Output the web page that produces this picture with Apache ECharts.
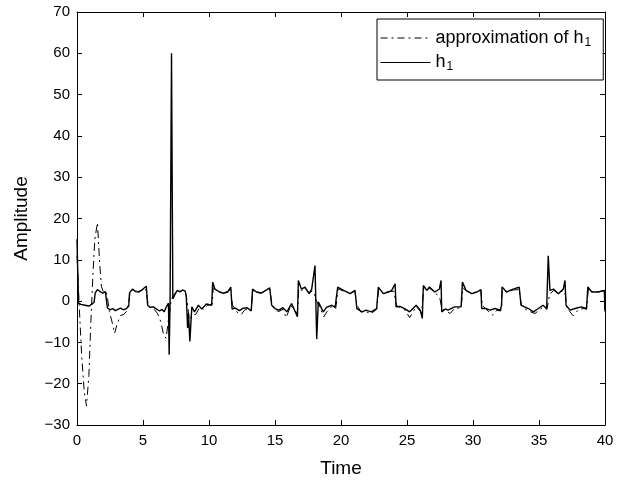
<!DOCTYPE html>
<html>
<head>
<meta charset="utf-8">
<script src="https://cdn.jsdelivr.net/npm/echarts@6/dist/echarts.min.js"></script>
<style>html,body{margin:0;padding:0;background:#fff}#c{width:629px;height:483px}</style>
</head>
<body>
<div id="c"></div>
<script>
// h1 (solid)
const tH1 = [0.00,0.05,0.12,0.3,0.6,0.9,1.1,1.30,1.38,1.55,1.75,1.95,2.15,2.25,2.30,2.5,2.7,2.9,3.1,3.3,3.5,3.75,3.92,3.98,4.2,4.45,4.7,4.95,5.25,5.35,5.55,5.8,6.0,6.25,6.45,6.6,6.8,6.93,6.98,7.05,7.16,7.26,7.45,7.6,7.8,8.0,8.2,8.28,8.38,8.45,8.55,8.7,8.9,9.2,9.45,9.8,10.2,10.28,10.45,10.8,11.1,11.4,11.65,11.75,12.0,12.3,12.6,12.9,13.2,13.3,13.6,13.95,14.3,14.6,14.75,15.0,15.3,15.6,15.9,16.26,16.7,16.77,17.0,17.27,17.58,17.78,18.03,18.16,18.28,18.66,18.9,19.3,19.55,19.75,20.2,20.7,21.06,21.2,21.6,21.9,22.3,22.7,22.83,23.2,23.6,23.84,23.96,24.1,24.17,24.47,24.85,25.2,25.7,26.0,26.16,26.24,26.5,26.7,27.1,27.45,27.58,27.63,27.9,28.1,28.6,29.1,29.2,29.47,29.9,30.3,30.6,30.66,31.0,31.3,31.67,32.05,32.17,32.2,32.55,32.8,33.05,33.5,33.64,33.9,34.2,34.57,34.95,35.3,35.58,35.7,35.83,36.1,36.46,36.84,36.97,37.05,37.35,37.73,38.2,38.6,38.7,39.0,39.5,39.95,40.0];
const vH1 = [15,8,-0.5,-0.8,-1.0,-1.2,-0.8,-0.2,2.0,2.8,2.3,1.9,2.3,2.6,-1.6,-2.1,-1.8,-2.3,-2.0,-1.7,-2.1,-1.8,-1.2,2.0,2.9,2.3,2.2,2.8,3.6,-1.0,-1.5,-1.4,-1.9,-2.4,-2.0,-2.6,-1.2,-0.5,-13,-0.5,60,0.5,1.8,2.6,2.2,2.7,2.4,1.0,-6.5,-3,-9.8,-1.4,-2.6,-1.0,-1.9,-0.7,-1.0,4.6,2.9,2.2,1.9,2.2,3.4,-1.9,-1.7,-2.3,-1.7,-1.6,-2.4,2.9,2.2,1.9,2.6,3.2,-1.0,-1.8,-2.2,-1.6,-2.6,-0.6,-3.8,5.0,2.9,3.4,1.8,2.9,8.6,-9.2,-0.2,-2.6,-1.5,-1.0,-1.5,3.4,2.6,1.8,2.6,-1.8,-2.6,-2.2,-2.6,-1.8,3.4,1.8,2.2,2.6,2.2,4.2,-1.4,-1.3,-1.9,-2.6,-1.0,-2.2,-4.2,3.8,2.6,3.4,2.2,2.9,5.0,-2.6,-1.9,-2.2,-1.4,-1.4,4.6,2.6,1.8,2.2,2.8,-1.8,-1.8,-2.2,-1.8,-2.2,-1.0,3.4,2.2,2.6,2.9,3.4,-1.0,-1.4,-1.8,-2.6,-1.8,-1.0,-1.8,11,2.6,2.9,1.8,2.9,5.0,-1.0,-2.2,-1.8,-1.4,-1.8,3.4,2.2,2.2,2.6,-2.5];

// approximation of h1 (dash-dot)
const tApx = [0.00,0.15,0.35,0.55,0.72,0.9,1.05,1.2,1.35,1.55,1.7,1.85,2.0,2.2,2.3,2.45,2.65,2.85,3.05,3.3,3.55,3.8,3.95,4.05,4.3,4.6,4.9,5.2,5.35,5.5,5.8,6.1,6.35,6.55,6.75,6.95,7.15,7.4,7.6,7.9,8.2,8.35,8.5,8.7,9.0,9.3,9.6,9.9,10.25,10.32,10.5,10.8,11.1,11.4,11.65,11.78,12.0,12.2,12.45,12.7,12.95,13.2,13.32,13.6,13.95,14.3,14.6,14.78,15.0,15.3,15.6,15.85,16.2,16.5,16.7,16.8,17.0,17.3,17.6,17.85,18.0,18.15,18.4,18.7,18.95,19.3,19.6,19.78,20.2,20.7,21.05,21.22,21.5,21.9,22.3,22.7,22.86,23.2,23.6,24.0,24.2,24.5,24.85,25.2,25.7,26.1,26.27,26.5,26.7,27.1,27.5,27.65,27.9,28.26,28.6,29.1,29.24,29.5,29.9,30.3,30.6,30.7,31.0,31.5,31.8,32.1,32.23,32.55,33.05,33.5,33.66,33.9,34.2,34.7,35.0,35.3,35.6,35.8,36.1,36.46,36.84,37.0,37.1,37.35,37.6,38.0,38.4,38.6,38.74,39.0,39.5,39.95,40.0];
const vApx = [11,0,-13,-22,-25.4,-18,-5,6,15,19,10,3.5,2.2,2.3,1.0,-2.5,-5,-7.8,-5.5,-3.5,-3.2,-2.3,0.5,2.5,2.9,2.3,2.6,3.3,0,-1.5,-1.8,-3,-5,-8,-9,-4,0.5,1.8,2.6,2.4,2.4,0,-4.5,-3.5,-3.2,-1.5,-2.0,-1.0,-0.8,3.2,2.8,2.2,2.0,2.3,2.8,-1.0,-2.0,-3.0,-3.2,-2.2,-1.8,-2.0,2.5,2.3,2.0,2.5,2.8,-1.0,-2.2,-2.5,-2.0,-4.0,-1.0,-2.5,-2.8,3.0,2.6,3.0,2.0,2.5,1.5,0.0,-1.5,-3.8,-2.5,-1.3,-1.8,3.0,2.4,1.9,2.4,-1.0,-2.6,-2.6,-3.0,-2.0,3.0,2.0,2.3,2.4,-1.0,-1.6,-2.2,-4.0,-1.3,-2.8,3.2,2.6,3.1,2.3,0.5,-2.0,-2.2,-3.0,-1.8,-1.6,3.2,2.5,1.9,2.3,2.6,-1.0,-2.0,-3.4,-2.2,-2.4,2.8,2.2,2.7,2.8,-1.0,-1.8,-2.4,-3.0,-2.2,-1.5,-2.0,1.5,2.6,2.0,2.5,1.5,-1.5,-2.6,-3.6,-2.0,-1.8,-2.0,3.0,2.3,2.3,2.5,-2.0];

const xTicks = [0,5,10,15,20,25,30,35,40];
const yTicks = [-30,-20,-10,0,10,20,30,40,50,60,70];

const chart = echarts.init(document.getElementById('c'), null, {renderer:'canvas'});
const FONT = 'Liberation Sans';
const fmtMinus = v => String(v).replace('-', '\u2212');
const axCommon = {
  axisLine:{show:true,onZero:false,lineStyle:{color:'#000',width:1}},
  axisTick:{show:true,inside:true,length:5,lineStyle:{color:'#000',width:1}},
  splitLine:{show:false}
};
chart.setOption({
  animation:false,
  backgroundColor:'#fff',
  color:['#000','#000'],
  textStyle:{fontFamily:FONT},
  grid:{left:77,right:24,top:12,bottom:54,containLabel:false},
  xAxis:[
    Object.assign({type:'value',min:xTicks[0],max:xTicks[xTicks.length-1],interval:5,position:'bottom',
      name:'Time',nameLocation:'middle',nameGap:34,nameTextStyle:{fontSize:19,color:'#000',fontFamily:FONT},
      axisLabel:{color:'#000',fontSize:15,fontFamily:FONT,margin:8,formatter:fmtMinus}},axCommon),
    Object.assign({type:'value',min:xTicks[0],max:xTicks[xTicks.length-1],interval:5,position:'top',
      axisLabel:{show:false}},axCommon)
  ],
  yAxis:[
    Object.assign({type:'value',min:yTicks[0],max:yTicks[yTicks.length-1],interval:10,position:'left',
      name:'Amplitude',nameLocation:'middle',nameGap:46,nameTextStyle:{fontSize:19,color:'#000',fontFamily:FONT},
      axisLabel:{color:'#000',fontSize:15,fontFamily:FONT,margin:7,formatter:fmtMinus}},axCommon),
    Object.assign({type:'value',min:yTicks[0],max:yTicks[yTicks.length-1],interval:10,position:'right',
      axisLabel:{show:false}},axCommon)
  ],
  legend:{
    show:true,orient:'vertical',left:377,top:19,
    backgroundColor:'#fff',borderColor:'#000',borderWidth:1,borderRadius:0,
    padding:[10,12,7,3],itemGap:5,itemWidth:50,itemHeight:18,
    itemStyle:{opacity:0},
    textStyle:{color:'#000',fontSize:18,fontFamily:FONT,
      rich:{n:{fontSize:18,fontFamily:FONT,color:'#000'},s:{fontSize:12,fontFamily:FONT,color:'#000',padding:[9,0,0,1]}}},
    formatter:function(name){ return name==='h1' ? '{n|h}{s|1}' : '{n|approximation of h}{s|1}'; },
    data:[
      {name:'approximation of h1',lineStyle:{width:1,color:'#000',type:[7,4,2,4]}},
      {name:'h1',lineStyle:{width:1,color:'#000',type:'solid'}}
    ]
  },
  series:[
    {name:'approximation of h1',type:'line',xAxisIndex:0,yAxisIndex:0,showSymbol:false,symbol:'none',
      itemStyle:{color:'#000'},
      lineStyle:{color:'#000',width:1,type:[8,4,2,4]},
      data:tApx.map((t,i)=>[t,vApx[i]]),z:2},
    {name:'h1',type:'line',xAxisIndex:0,yAxisIndex:0,showSymbol:false,symbol:'none',
      itemStyle:{color:'#000'},
      lineStyle:{color:'#000',width:1.4,type:'solid'},
      data:tH1.map((t,i)=>[t,vH1[i]]),z:3}
  ]
});
</script>
</body>
</html>
